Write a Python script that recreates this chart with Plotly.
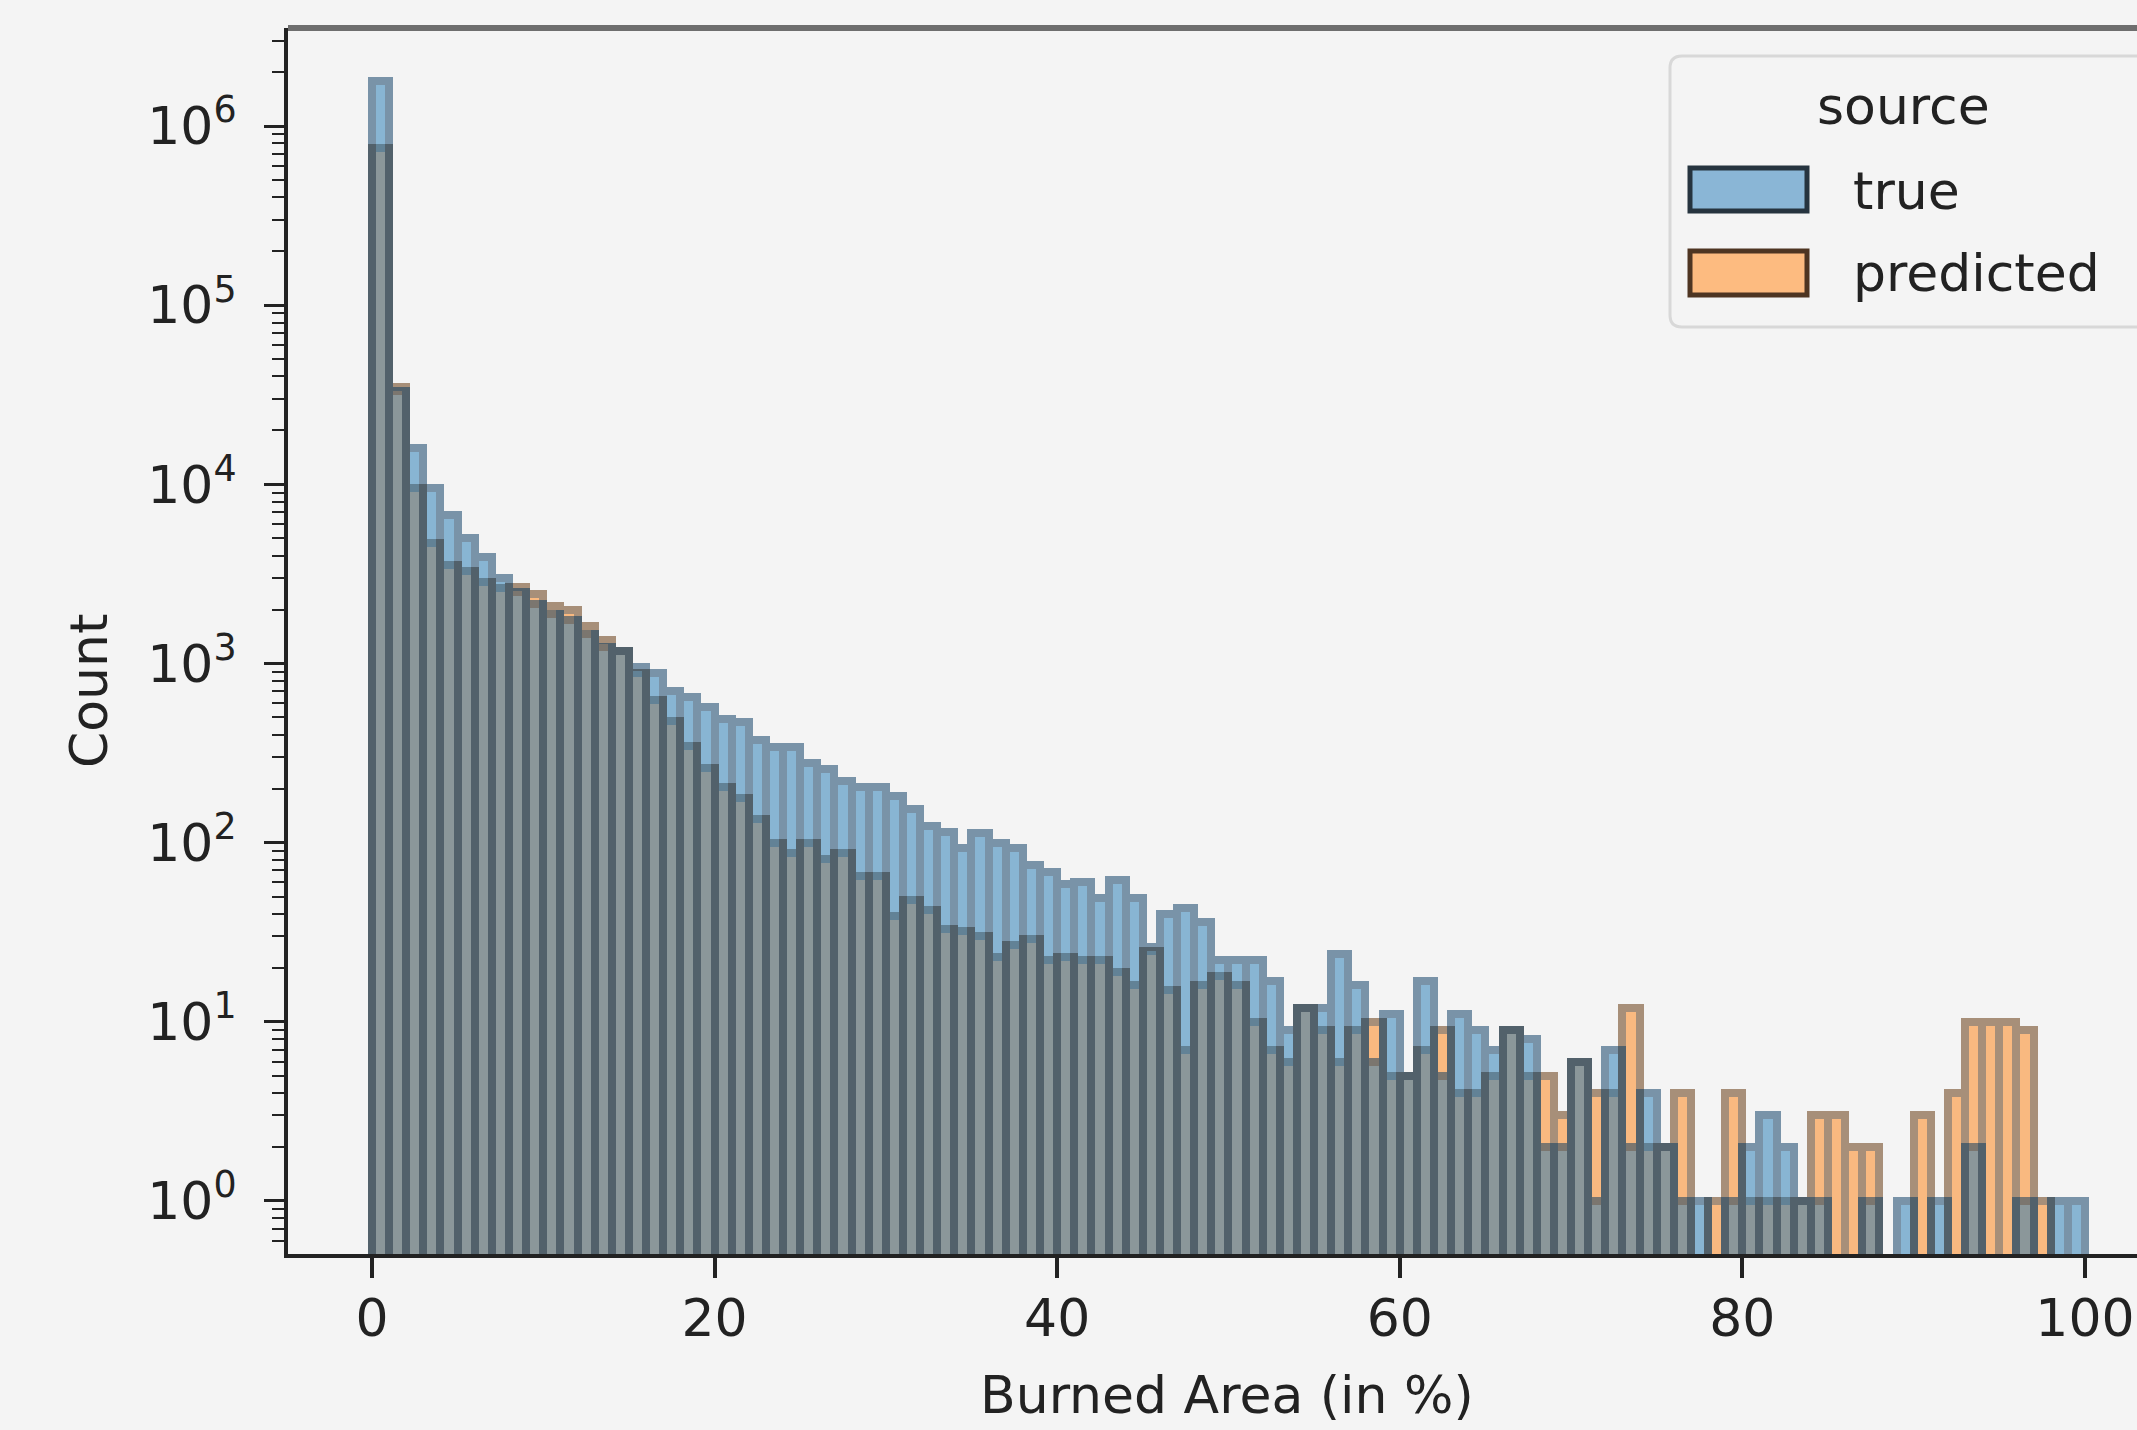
import plotly.graph_objects as go

# ---------------- data ----------------
bin_left = list(range(100))  # 100 bins of width 1 between 0 and 100 (%)

true_counts = [
    1790000, 33000, 15900, 9500, 6700, 5000, 3950, 3000, 2500, 2140,
    1900, 1750, 1460, 1230, 1170, 950, 880, 700, 650, 575,
    493, 474, 374, 340, 340, 279, 258, 221, 204, 204,
    182, 155, 124, 115, 93, 113, 100, 93, 75, 69,
    59, 60, 49, 62, 49, 26, 40, 43, 36, 22,
    22, 22, 17, 9, 12, 12, 24, 16, 6, 11,
    5, 17, 5, 11, 9, 7, 9, 8, 2, 2,
    6, 1, 7, 2, 4, 2, 1, 1, 0, 1,
    2, 3, 2, 1, 1, 0, 0, 1, 0, 1,
    0, 1, 0, 2, 0, 0, 1, 0, 1, 1,
]

predicted_counts = [
    753000, 35100, 9500, 4690, 3560, 3290, 2850, 2630, 2680, 2430,
    2100, 1980, 1610, 1360, 1170, 880, 622, 477, 345, 262,
    204, 177, 135, 100, 87, 100, 81, 87, 65, 65,
    39, 48, 42, 33, 32, 30, 23, 27, 29, 22,
    23, 22, 22, 19, 16, 25, 15, 7, 16, 18,
    16, 10, 7, 6, 12, 9, 6, 9, 10, 5,
    5, 7, 9, 4, 4, 5, 9, 5, 5, 3,
    6, 4, 4, 12, 2, 2, 4, 0, 1, 4,
    1, 1, 1, 1, 3, 3, 2, 2, 0, 0,
    3, 0, 4, 10, 10, 10, 9, 1, 0, 0,
]

series_names = ["true", "predicted"]
x_tick_vals = [0, 20, 40, 60, 80, 100]
y_tick_vals = [1, 10, 100, 1000, 10000, 100000, 1000000]
y_tick_text = ["10<sup>0</sup>", "10<sup>1</sup>", "10<sup>2</sup>", "10<sup>3</sup>",
               "10<sup>4</sup>", "10<sup>5</sup>", "10<sup>6</sup>"]
x_title = "Burned Area (in %)"
y_title = "Count"
legend_title = "source"

# ---------------- styling ----------------
BG = "#f4f4f4"
INK = "#222222"
FONT = "DejaVu Sans"
FS = 52
BLUE = "#1f77b4"
ORANGE = "#ff7f0e"
BLUE_EDGE = "#00355f"
ORANGE_EDGE = "#5c2c00"

W, H = 2137, 1430
PL, PR, PT, PB = 288, 2137, 28, 1254


def px(x):
    return (x - PL) / (PR - PL)


def py(y):
    return (PB - y) / (PB - PT)


centers = [b + 0.5 for b in bin_left]


def clean(vals):
    return [v if v > 0 else None for v in vals]


fig = go.Figure()
# predicted drawn first (under), true on top - like seaborn layer order
fig.add_trace(go.Bar(
    x=centers, y=clean(predicted_counts), width=1, name=series_names[1],
    marker=dict(color=ORANGE, line=dict(color=ORANGE_EDGE, width=8)),
    opacity=0.5, showlegend=False,
))
fig.add_trace(go.Bar(
    x=centers, y=clean(true_counts), width=1, name=series_names[0],
    marker=dict(color=BLUE, line=dict(color=BLUE_EDGE, width=8)),
    opacity=0.5, showlegend=False,
))

minor_vals = []
for e in range(-1, 7):
    for m in range(2, 10):
        minor_vals.append(m * 10 ** e)

fig.update_layout(
    width=W, height=H,
    margin=dict(l=PL, r=W - PR, t=PT, b=H - PB, pad=0),
    paper_bgcolor=BG, plot_bgcolor=BG,
    barmode="overlay", bargap=0,
    font=dict(family=FONT, size=FS, color=INK),
    xaxis=dict(
        range=[-4.90, 103.04], tickvals=x_tick_vals,
        ticks="outside", ticklen=20, tickwidth=4, tickcolor=INK,
        showline=True, linecolor=INK, linewidth=4, mirror=False,
        showgrid=False, zeroline=False,
        tickfont=dict(family=FONT, size=FS, color=INK),
        ticklabelstandoff=-4,
    ),
    yaxis=dict(
        type="log", range=[-0.296, 6.547],
        tickvals=y_tick_vals, ticktext=y_tick_text,
        ticks="outside", ticklen=20, tickwidth=3, tickcolor=INK,
        minor=dict(tickmode="array", tickvals=minor_vals, ticks="outside",
                   ticklen=12, tickwidth=2, tickcolor=INK, showgrid=False),
        showline=True, linecolor=INK, linewidth=4, mirror=False,
        showgrid=False, zeroline=False,
        tickfont=dict(family=FONT, size=FS, color=INK),
        ticklabelstandoff=17,
    ),
)

annotations = [
    dict(text=x_title, x=px(1227), y=py(1395), xref="paper", yref="paper",
         showarrow=False, xanchor="center", yanchor="middle",
         font=dict(family=FONT, size=FS, color=INK)),
    dict(text=y_title, x=px(89), y=py(691), xref="paper", yref="paper",
         showarrow=False, xanchor="center", yanchor="middle", textangle=-90,
         font=dict(family=FONT, size=FS, color=INK)),
    dict(text=legend_title, x=px(1903), y=py(106), xref="paper", yref="paper",
         showarrow=False, xanchor="center", yanchor="middle",
         font=dict(family=FONT, size=FS, color=INK)),
    dict(text=series_names[0], x=px(1851), y=py(191), xref="paper", yref="paper",
         showarrow=False, xanchor="left", yanchor="middle",
         font=dict(family=FONT, size=FS, color=INK)),
    dict(text=series_names[1], x=px(1851), y=py(273), xref="paper", yref="paper",
         showarrow=False, xanchor="left", yanchor="middle",
         font=dict(family=FONT, size=FS, color=INK)),
]


def rounded_box(x0, y0, x1, y1, r):
    return (f"M {px(x0 + r)},{py(y0)} L {px(x1 - r)},{py(y0)} "
            f"Q {px(x1)},{py(y0)} {px(x1)},{py(y0 + r)} "
            f"L {px(x1)},{py(y1 - r)} Q {px(x1)},{py(y1)} {px(x1 - r)},{py(y1)} "
            f"L {px(x0 + r)},{py(y1)} Q {px(x0)},{py(y1)} {px(x0)},{py(y1 - r)} "
            f"L {px(x0)},{py(y0 + r)} Q {px(x0)},{py(y0)} {px(x0 + r)},{py(y0)} Z")


shapes = [
    # top spine (lighter grey in the reference)
    dict(type="line", x0=0, x1=1, y0=1, y1=1, xref="paper", yref="paper",
         line=dict(color="#6e6e6e", width=6), layer="above"),
    dict(type="path", path=rounded_box(1670, 56, 2170, 327, 12),
         xref="paper", yref="paper", fillcolor=BG,
         line=dict(color="#d8d8d8", width=3), layer="above"),
    dict(type="rect", x0=px(1690), x1=px(1807), y0=py(168), y1=py(211),
         xref="paper", yref="paper", fillcolor="#8ab6d6",
         line=dict(color="#26343f", width=5), layer="above"),
    dict(type="rect", x0=px(1690), x1=px(1807), y0=py(251), y1=py(295),
         xref="paper", yref="paper", fillcolor="#fdbb80",
         line=dict(color="#4e3522", width=5), layer="above"),
]

fig.update_layout(annotations=annotations, shapes=shapes)

# remove the browser's default 8px body margin so the figure fills the window
page_fix = ("document.body.style.margin='0px';"
            "document.body.style.padding='0px';"
            "document.body.style.overflow='hidden';"
            "document.body.style.background='" + BG + "';"
            "document.documentElement.style.background='" + BG + "';")

fig.write_html("out.html", post_script=page_fix,
               config={"displayModeBar": False})
